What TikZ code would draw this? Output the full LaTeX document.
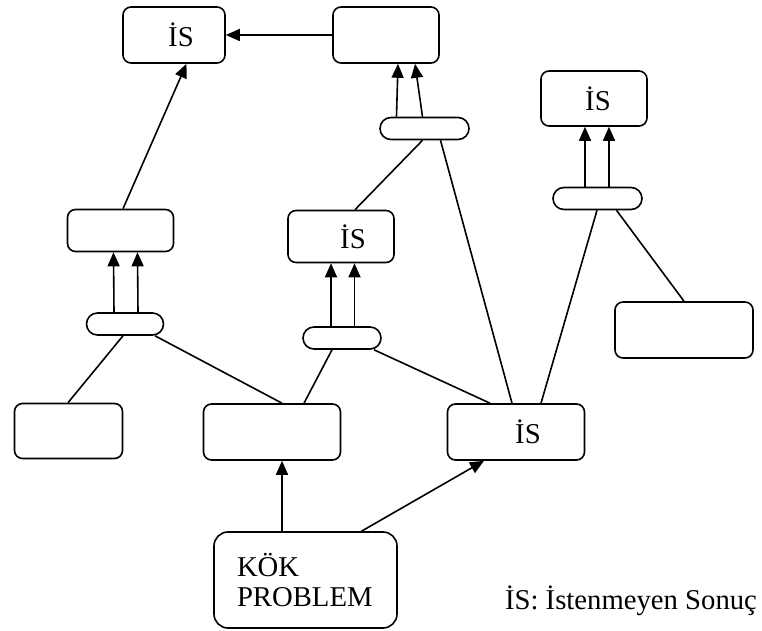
\documentclass[tikz,border=0pt]{standalone}
\usepackage{fontspec}
\setmainfont{Liberation Serif}
\usetikzlibrary{calc,arrows.meta,shapes.misc}

\tikzset{
  box/.style={draw,line width=0.8pt,rounded corners=4pt,inner sep=0pt},
  hub/.style={draw,line width=0.8pt,rounded rectangle,inner sep=0pt,minimum height=11pt},
  tip/.style={-{Triangle[length=7pt,width=6pt]}}
}

\begin{document}
\begin{tikzpicture}[x=0.5pt,y=-0.5pt,line width=0.8pt,font=\fontsize{14.35}{15}\selectfont]
    \useasboundingbox (0,0) rectangle (762,631);
    \node[box,minimum width=51pt,minimum height=28pt] (A) at (174,35) {\hspace*{7pt}İS};
    \node[box,minimum width=53pt,minimum height=28pt] (B) at (386,35) {};
    \node[box,minimum width=53pt,minimum height=27.5pt] (C) at (594,98.5) {\hspace*{4pt}İS};
    \node[box,minimum width=69pt,minimum height=28pt] (D) at (684,330) {};
    \node[box,minimum width=53pt,minimum height=21pt] (F) at (120.5,230.5) {};
    \node[box,minimum width=54pt,minimum height=27.5pt] (G) at (68.5,431) {};
    \node[box,minimum width=68.5pt,minimum height=28pt] (H) at (272,432) {};
    \node[box,minimum width=53pt,minimum height=26pt] (I) at (341,236.5) {\hspace*{12pt}İS};
    \node[box,minimum width=68.5pt,minimum height=28pt] (E) at (516,432) {\hspace*{12pt}İS};
    \node[box,rounded corners=7pt,minimum width=91.5pt,minimum height=48pt,
      text width=68.5pt,inner xsep=11.5pt,align=left,
      font=\fontsize{14.35}{15}\selectfont] (K) at (305.5,580) {KÖK\\PROBLEM};
    \node[anchor=base] (key) at (631,610) {İS: İstenmeyen Sonuç};

    \node[hub,minimum width=44.5pt] (O1) at (424.5,128.5) {};
    \node[hub,minimum width=38.5pt] (O2) at (125,324) {};
    \node[hub,minimum width=44.5pt] (O3) at (597.5,198.5) {};
    \node[hub,minimum width=39pt] (O4) at (342,338) {};

    \draw[tip] (B.west) -- (A.east);
    \draw[tip] ($(F.north)+(2.5,0)$) -- ($(A.south)+(12.5,0)$);
    \draw[tip] ($(O1.north)+(-28,0)$) -- ($(B.south)+(12,0)$);
    \draw[tip] ($(O1.north)+(-2,0)$) -- ($(B.south)+(29,0)$);
    \draw[tip] ($(O2.north)+(-11,0)$) -- ($(F.south)+(-7,0)$);
    \draw[tip] ($(O2.north)+(13,0)$) -- ($(F.south)+(17,0)$);
    \draw[tip] ($(O4.north)+(-11,0)$) -- ($(I.south)+(-10,0)$);
    \draw[tip] ($(O4.north)+(12.5,0)$) -- ($(I.south)+(13.5,0)$);
    \draw[tip] ($(O3.north)+(-12.5,0)$) -- ($(C.south)+(-9,0)$);
    \draw[tip] ($(O3.north)+(11.5,0)$) -- ($(C.south)+(15,0)$);
    \draw[tip] ($(K.north)+(-23.5,0)$) -- ($(H.south)+(10,0)$);
    \draw[tip] ($(K.north)+(56,0)$) -- ($(E.south)+(-32,0)$);
    \draw
    ($(I.north)+(14,0)$) -- ($(O1.south)+(-2,0)$)
    ($(O1.south)+(16,0)$) -- ($(E.north)+(-4,0)$)
    ($(O2.south)+(-2,0)$) -- ($(G.north)+(-0.5,0)$)
    ($(O2.south)+(30,0)$) -- ($(H.north)+(10,0)$)
    ($(O4.south)+(-10,0)$) -- ($(H.north)+(32,0)$)
    ($(O4.south)+(32,0)$) -- ($(E.north)+(-26,0)$)
    ($(O3.south)+(-0.5,0)$) -- ($(E.north)+(25,0)$)
    ($(O3.south)+(19,0)$) -- ($(D.north)+(0,0)$);
  \end{tikzpicture}
\end{document}
